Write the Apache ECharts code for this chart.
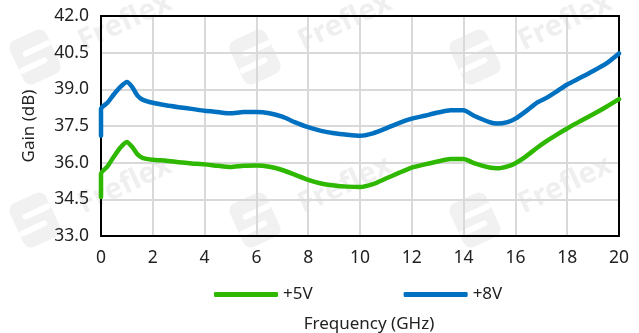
<!DOCTYPE html>
<html>
<head>
<meta charset="utf-8">
<script src="https://cdn.jsdelivr.net/npm/echarts@6/dist/echarts.min.js"></script>
<style>
  html, body { margin: 0; padding: 0; background: #ffffff; }
  #chart { width: 639px; height: 333px; }
</style>
</head>
<body>
<div id="chart"></div>
<script>
// Frequency sweep (GHz) and measured gain (dB) for the two supply voltages
const freq = [0, 0, 0.25, 0.5, 0.75, 1.0, 1.2, 1.4, 1.6, 2.0, 2.5, 3.0, 3.5, 4.0, 4.5, 5.0, 5.5, 6.0, 6.5, 7.0, 7.5, 8.0, 8.5, 9.0, 9.5, 10.0, 10.5, 11.0, 11.5, 12.0, 12.5, 13.0, 13.5, 14.0, 14.4, 15.0, 15.3, 15.7, 16.0, 16.4, 16.8, 17.2, 17.6, 18.0, 18.5, 19.0, 19.5, 20.0];
const gain5V = [34.6, 35.55, 35.85, 36.25, 36.62, 36.85, 36.65, 36.35, 36.2, 36.12, 36.08, 36.02, 35.97, 35.93, 35.87, 35.82, 35.87, 35.88, 35.83, 35.7, 35.5, 35.3, 35.15, 35.07, 35.02, 35.0, 35.12, 35.35, 35.58, 35.8, 35.93, 36.05, 36.15, 36.15, 35.98, 35.8, 35.77, 35.85, 35.98, 36.25, 36.58, 36.88, 37.15, 37.4, 37.7, 37.98, 38.28, 38.6];
const gain8V = [37.1, 38.2, 38.45, 38.8, 39.1, 39.3, 39.1, 38.75, 38.58, 38.45, 38.35, 38.27, 38.2, 38.12, 38.07, 38.02, 38.07, 38.07, 38.02, 37.88, 37.65, 37.45, 37.3, 37.2, 37.14, 37.1, 37.2, 37.4, 37.62, 37.8, 37.92, 38.05, 38.14, 38.14, 37.92, 37.66, 37.6, 37.66, 37.8, 38.1, 38.43, 38.65, 38.92, 39.2, 39.47, 39.75, 40.05, 40.47];
const seriesNames = ['+5V', '+8V'];
const seriesColors = ['#2EB800', '#0070C0'];

const FONT = 'Noto Sans';
const TEXT = '#222222';

const pairs = (xs, ys) => xs.map((x, i) => [x, ys[i]]);

// Faint "Freflex" watermark tiles drawn behind the plot
function watermark(cx, cy) {
  const rot = 25 * Math.PI / 180;
  return [
    {
      type: 'group', x: cx, y: cy, rotation: rot, z: -1, silent: true,
      children: [
        { type: 'rect', shape: { x: -20, y: -24, width: 40, height: 48, r: 8 }, style: { fill: '#f1f1f1' } },
        { type: 'rect', shape: { x: -10, y: -10, width: 30, height: 6, r: 3 }, style: { fill: '#ffffff' } },
        { type: 'rect', shape: { x: -20, y: 4, width: 30, height: 6, r: 3 }, style: { fill: '#ffffff' } }
      ]
    },
    {
      type: 'text', x: cx + 90, y: cy - 35, rotation: rot, z: -1, silent: true,
      style: { text: 'Freflex', font: 'bold 29px "' + FONT + '"', fill: '#efefef', align: 'center', verticalAlign: 'middle' }
    }
  ];
}
const graphics = [];
[[35, 57], [255, 57], [475, 57], [35, 220], [255, 220], [475, 220]].forEach(p => graphics.push(...watermark(p[0], p[1])));

const chart = echarts.init(document.getElementById('chart'), null, { renderer: 'canvas' });
chart.setOption({
  animation: false,
  backgroundColor: '#ffffff',
  graphic: graphics,
  grid: { left: 101, top: 16, width: 518, height: 220, containLabel: false, outerBoundsMode: 'none' },
  legend: {
    data: seriesNames,
    left: 214, top: 286, padding: 0,
    itemWidth: 64, itemHeight: 5, itemGap: 91,
    icon: 'roundRect',
    textStyle: { fontFamily: FONT, fontSize: 17, color: TEXT }
  },
  xAxis: [
    {
      type: 'value', min: 0, max: 20, interval: 2,
      name: 'Frequency (GHz)', nameLocation: 'middle', nameGap: 80,
      nameTextStyle: { fontFamily: FONT, fontSize: 17, color: TEXT, padding: [0, 0, 0, 18] },
      axisLine: { show: true, onZero: false, lineStyle: { color: '#000', width: 2 } },
      axisTick: { show: false },
      axisLabel: { fontFamily: FONT, fontSize: 17.5, color: TEXT, margin: 13 },
      splitLine: { show: true, lineStyle: { color: '#d9d9d9', width: 2 } }
    },
    {
      type: 'value', position: 'top', min: 0, max: 20, interval: 2,
      axisLine: { show: true, onZero: false, lineStyle: { color: '#000', width: 2 } },
      axisTick: { show: false }, axisLabel: { show: false }, splitLine: { show: false }
    }
  ],
  yAxis: [
    {
      type: 'value', min: 33, max: 42, interval: 1.5,
      name: 'Gain (dB)', nameLocation: 'middle', nameGap: 63,
      nameTextStyle: { fontFamily: FONT, fontSize: 17, color: TEXT },
      axisLine: { show: true, onZero: false, lineStyle: { color: '#000', width: 2 } },
      axisTick: { show: false },
      axisLabel: { fontFamily: FONT, fontSize: 17.5, color: TEXT, margin: 12, formatter: v => v.toFixed(1) },
      splitLine: { show: true, lineStyle: { color: '#d9d9d9', width: 2 } }
    },
    {
      type: 'value', position: 'right', min: 33, max: 42, interval: 1.5,
      axisLine: { show: true, onZero: false, lineStyle: { color: '#000', width: 2 } },
      axisTick: { show: false }, axisLabel: { show: false }, splitLine: { show: false }
    }
  ],
  series: [
    {
      name: seriesNames[0], type: 'line', data: pairs(freq, gain5V),
      symbol: 'none', smooth: 0.2, color: seriesColors[0],
      lineStyle: { width: 4.5, color: seriesColors[0], cap: 'round', join: 'round' }
    },
    {
      name: seriesNames[1], type: 'line', data: pairs(freq, gain8V),
      symbol: 'none', smooth: 0.2, color: seriesColors[1],
      lineStyle: { width: 4.5, color: seriesColors[1], cap: 'round', join: 'round' }
    }
  ]
});
</script>
</body>
</html>
